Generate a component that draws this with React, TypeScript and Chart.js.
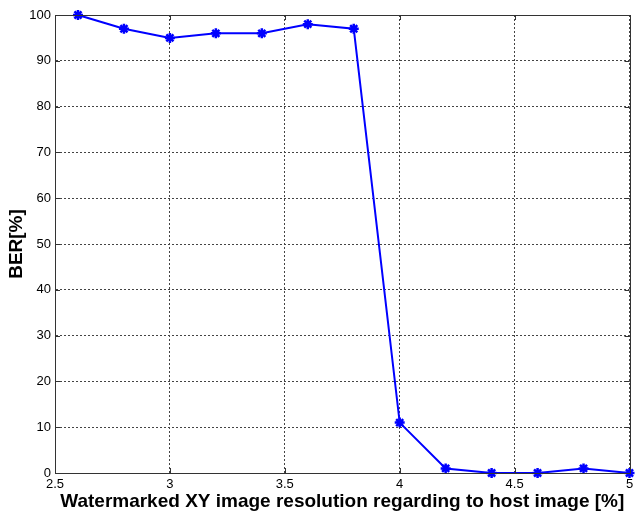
import React, { useEffect, useRef } from "react";
import { Chart, registerables } from "chart.js";

Chart.register(...registerables);

// Resolution of the watermarked XY image relative to the host image [%]
const resolution = [2.6, 2.8, 3.0, 3.2, 3.4, 3.6, 3.8, 4.0, 4.2, 4.4, 4.6, 4.8, 5.0];
// Bit error rate [%]
const ber = [100, 97, 95, 96, 96, 98, 97, 11, 1, 0, 0, 1, 0];

const xTicks = [2.5, 3, 3.5, 4, 4.5, 5];
const yTicks = [0, 10, 20, 30, 40, 50, 60, 70, 80, 90, 100];

const FONT = "Arial, 'Liberation Sans', Helvetica, sans-serif";

// Box around the plot plus short inward tick marks on all four sides
const boxPlugin = {
  id: "matlabBox",
  afterDatasetsDraw(chart: any) {
    const { ctx, chartArea: a, scales } = chart;
    ctx.save();
    ctx.strokeStyle = "#333";
    ctx.lineWidth = 1;
    ctx.setLineDash([]);
    const len = 5;
    ctx.beginPath();
    xTicks.forEach((v) => {
      const px = Math.round(scales.x.getPixelForValue(v)) + 0.5;
      ctx.moveTo(px, a.bottom);
      ctx.lineTo(px, a.bottom - len);
      ctx.moveTo(px, a.top);
      ctx.lineTo(px, a.top + len);
    });
    yTicks.forEach((v) => {
      const py = Math.round(scales.y.getPixelForValue(v)) + 0.5;
      ctx.moveTo(a.left, py);
      ctx.lineTo(a.left + len, py);
      ctx.moveTo(a.right, py);
      ctx.lineTo(a.right - len, py);
    });
    ctx.stroke();
    ctx.strokeRect(
      Math.round(a.left) + 0.5,
      Math.round(a.top) + 0.5,
      Math.round(a.right - a.left),
      Math.round(a.bottom - a.top)
    );
    ctx.restore();
  },
};

export default function App() {
  const ref = useRef<HTMLCanvasElement | null>(null);

  useEffect(() => {
    document.body.style.margin = "0";
    document.body.style.background = "#fff";
    const canvas = ref.current;
    if (!canvas) return;
    const chart = new Chart(canvas, {
      type: "line",
      data: {
        datasets: [
          {
            data: resolution.map((x, i) => ({ x, y: ber[i] })),
            borderColor: "#0000ff",
            backgroundColor: "#0000ff",
            borderWidth: 2,
            pointStyle: "star",
            pointRadius: 5,
            pointBorderWidth: 2.5,
            pointBorderColor: "#0000ff",
            tension: 0,
            clip: false,
          },
        ],
      },
      options: {
        animation: false,
        responsive: false,
        devicePixelRatio: 1,
        layout: { padding: { top: 15, right: 4, left: 0, bottom: 0 } },
        plugins: {
          legend: { display: false },
          tooltip: { enabled: false },
        },
        scales: {
          x: {
            type: "linear",
            min: 2.5,
            max: 5,
            afterBuildTicks: (s: any) => {
              s.ticks = xTicks.map((value) => ({ value }));
            },
            afterFit: (s: any) => {
              s.height = 46;
              s.paddingLeft = 0;
              s.paddingRight = 0;
            },
            ticks: {
              callback: (v: any) => String(v),
              color: "#000",
              font: { family: FONT, size: 13 },
              padding: 4,
              maxRotation: 0,
              autoSkip: false,
            },
            grid: {
              color: "#444",
              lineWidth: 1,
              drawTicks: false,
            },
            border: { display: true, color: "#333", dash: [2, 2] },
            title: {
              display: true,
              text: "Watermarked XY image resolution regarding to host image [%]",
              color: "#000",
              font: { family: FONT, size: 19, weight: "bold" },
              padding: { top: 0, bottom: 6 },
            },
          },
          y: {
            type: "linear",
            min: 0,
            max: 100,
            afterBuildTicks: (s: any) => {
              s.ticks = yTicks.map((value) => ({ value }));
            },
            afterFit: (s: any) => {
              s.width = 55;
              s.paddingTop = 0;
              s.paddingBottom = 0;
            },
            ticks: {
              callback: (v: any) => String(v),
              color: "#000",
              font: { family: FONT, size: 13 },
              padding: 4,
              autoSkip: false,
            },
            grid: {
              color: "#444",
              lineWidth: 1,
              drawTicks: false,
            },
            border: { display: true, color: "#333", dash: [2, 2] },
            title: {
              display: true,
              text: "BER[%]",
              color: "#000",
              font: { family: FONT, size: 19, weight: "bold" },
              padding: { top: 5, bottom: 0 },
            },
          },
        },
      },
      plugins: [boxPlugin],
    } as any);
    return () => chart.destroy();
  }, []);

  return (
    <div style={{ width: 637, height: 519, position: "relative" }}>
      <canvas ref={ref} width={637} height={519} style={{ display: "block" }} />
    </div>
  );
}
